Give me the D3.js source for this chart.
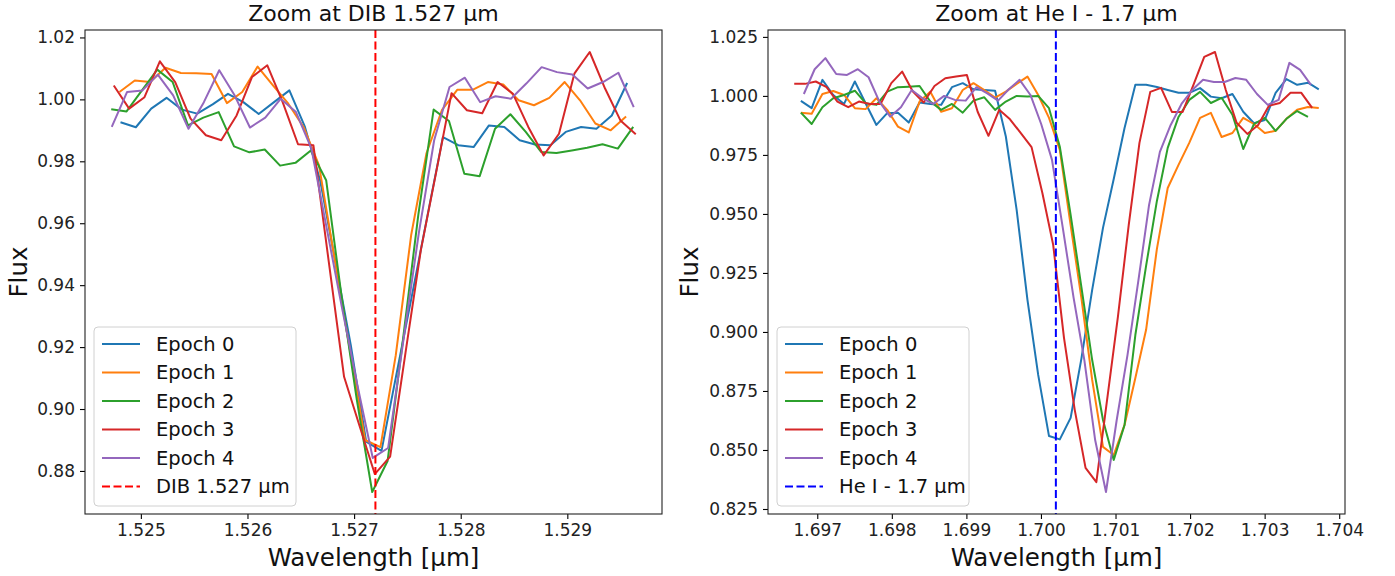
<!DOCTYPE html>
<html>
<head>
<meta charset="utf-8">
<script src="https://cdn.jsdelivr.net/npm/d3@7"></script>
<style>
	body{margin:0;background:#fff;}
	svg{display:block;font-family:"DejaVu Sans",sans-serif;}
	.axis line{stroke:#000;stroke-width:1.1;}
	.axis path{display:none;}
	.axis text{font-size:17px;fill:#222;font-family:"DejaVu Sans",sans-serif;}
	.frame{fill:none;stroke:#222;stroke-width:1.1;}
	.spec{fill:none;stroke-width:2;stroke-linejoin:round;}
	.ttl{font-size:22px;fill:#111;}
	.lbl{font-size:24.5px;fill:#111;}
	.leg-box{fill:#fff;fill-opacity:0.8;stroke:#d0d0d0;stroke-width:1;}
	.leg-text{font-size:19.5px;fill:#111;}
</style>
</head>
<body>
<svg id="chart" width="1395" height="576"></svg>
<script>
var epochNames = ['Epoch 0', 'Epoch 1', 'Epoch 2', 'Epoch 3', 'Epoch 4'];
var epochColors = ['#1f77b4', '#ff7f0e', '#2ca02c', '#d62728', '#9467bd'];

// DIB 1.527 panel
var dibWave0 = [1.524809,1.524953,1.525097,1.525241,1.525385,1.525529,1.525673,1.525817,1.525961,1.526105,1.526249,1.526393,1.526537,1.526681,1.526825,1.526969,1.527113,1.527257,1.527401,1.527545,1.527689,1.527833,1.527977,1.528121,1.528265,1.528409,1.528553,1.528697,1.528841,1.528985,1.529129,1.529273,1.529417,1.529561];
var dibFlux0 = [0.9926,0.9910,0.9970,1.0005,0.9967,0.9954,0.9984,1.0018,0.9991,0.9953,0.9991,1.0029,0.9913,0.9739,0.9474,0.9206,0.8895,0.8865,0.9119,0.9371,0.9626,0.9878,0.9852,0.9846,0.9916,0.9911,0.9868,0.9854,0.9852,0.9895,0.9911,0.9905,0.9948,1.0053];
var dibWave1 = [1.524799,1.524943,1.525087,1.525231,1.525375,1.525519,1.525663,1.525807,1.525951,1.526095,1.526239,1.526383,1.526527,1.526671,1.526815,1.526959,1.527103,1.527247,1.527391,1.527535,1.527679,1.527823,1.527967,1.528111,1.528255,1.528399,1.528543,1.528687,1.528831,1.528975,1.529119,1.529263,1.529407,1.529551];
var dibFlux1 = [1.0024,1.0061,1.0056,1.0102,1.0085,1.0084,1.0082,0.9988,1.0024,1.0106,1.0045,0.9986,0.9910,0.9787,0.9490,0.9194,0.8900,0.8877,0.9174,0.9561,0.9826,0.9965,1.0031,1.0031,1.0056,1.0048,0.9997,0.9981,1.0005,1.0056,0.9997,0.9922,0.9900,0.9945];
var dibWave2 = [1.524722,1.524866,1.525010,1.525154,1.525298,1.525442,1.525586,1.525730,1.525874,1.526018,1.526162,1.526306,1.526450,1.526594,1.526738,1.526882,1.527026,1.527170,1.527314,1.527458,1.527602,1.527746,1.527890,1.528034,1.528178,1.528322,1.528466,1.528610,1.528754,1.528898,1.529042,1.529186,1.529330,1.529474,1.529618];
var dibFlux2 = [0.9968,0.9961,1.0029,1.0096,1.0056,0.9916,0.9941,0.9959,0.9848,0.9829,0.9838,0.9786,0.9795,0.9835,0.9739,0.9365,0.9029,0.8732,0.8832,0.9223,0.9626,0.9967,0.9930,0.9760,0.9752,0.9905,0.9952,0.9895,0.9830,0.9827,0.9835,0.9844,0.9855,0.9841,0.9911];
var dibWave3 = [1.524746,1.524890,1.525034,1.525178,1.525322,1.525466,1.525610,1.525754,1.525898,1.526042,1.526186,1.526330,1.526474,1.526618,1.526762,1.526906,1.527050,1.527194,1.527338,1.527482,1.527626,1.527770,1.527914,1.528058,1.528202,1.528346,1.528490,1.528634,1.528778,1.528922,1.529066,1.529210,1.529354,1.529498,1.529642];
var dibFlux3 = [1.0045,0.9970,1.0007,1.0123,1.0056,0.9938,0.9884,0.9868,0.9948,1.0072,1.0110,0.9991,0.9855,0.9852,0.9477,0.9104,0.8947,0.8790,0.8846,0.9181,0.9513,0.9765,1.0020,0.9965,0.9955,1.0056,1.0018,0.9911,0.9819,0.9889,1.0083,1.0153,1.0035,0.9932,0.9887];
var dibWave4 = [1.524727,1.524871,1.525015,1.525159,1.525303,1.525447,1.525591,1.525735,1.525879,1.526023,1.526167,1.526311,1.526455,1.526599,1.526743,1.526887,1.527031,1.527175,1.527319,1.527463,1.527607,1.527751,1.527895,1.528039,1.528183,1.528327,1.528471,1.528615,1.528759,1.528903,1.529047,1.529191,1.529335,1.529479,1.529623];
var dibFlux4 = [0.9911,1.0024,1.0029,1.0080,1.0013,0.9905,0.9991,1.0094,1.0013,0.9909,0.9941,1.0002,0.9959,0.9842,0.9584,0.9326,0.9077,0.8842,0.8874,0.9223,0.9568,0.9868,1.0040,1.0070,0.9991,1.0010,1.0002,1.0051,1.0104,1.0088,1.0080,1.0035,1.0056,1.0086,0.9975];
var dibCenter = 1.5272;
var dibXTicks = [1.525, 1.526, 1.527, 1.528, 1.529];
var dibYTicks = [0.88, 0.90, 0.92, 0.94, 0.96, 0.98, 1.00, 1.02];

// He I 1.7 panel (epochs 0-2 share one grid)
var heWave0 = [1.696780,1.696925,1.697069,1.697214,1.697359,1.697504,1.697648,1.697793,1.697938,1.698082,1.698227,1.698372,1.698516,1.698661,1.698806,1.698951,1.699095,1.699240,1.699385,1.699529,1.699674,1.699819,1.699963,1.700108,1.700253,1.700398,1.700542,1.700687,1.700832,1.700976,1.701121,1.701266,1.701410,1.701555,1.701700,1.701845,1.701989,1.702134,1.702279,1.702423,1.702568,1.702713,1.702857,1.703002,1.703147,1.703292,1.703436,1.703581,1.703726];
var heFlux0 = [0.9979,0.9948,1.0068,1.0004,0.9966,1.0061,0.9969,0.9877,0.9927,0.9929,0.9887,0.9972,0.9966,0.9962,1.0037,1.0054,1.0028,1.0025,1.0022,0.9828,0.9517,0.9136,0.8818,0.8559,0.8545,0.8636,0.8886,0.9178,0.9441,0.9648,0.9864,1.0047,1.0047,1.0038,1.0025,1.0013,1.0013,1.0033,0.9997,0.9990,1.0008,0.9933,0.9884,0.9898,1.0013,1.0071,1.0047,1.0056,1.0028];
var heFlux1 = [0.9929,0.9924,1.0008,1.0021,1.0004,0.9948,0.9944,0.9990,0.9941,0.9870,0.9845,0.9976,1.0018,0.9933,0.9948,1.0025,1.0054,1.0025,0.9993,1.0018,1.0051,1.0082,1.0004,0.9907,0.9771,0.9453,0.9144,0.8797,0.8513,0.8479,0.8606,0.8805,0.9009,0.9352,0.9610,0.9708,0.9801,0.9907,0.9928,0.9826,0.9843,0.9907,0.9881,0.9843,0.9852,0.9903,0.9941,0.9953,0.9949];
var heFlux2 = [0.9929,0.9881,0.9952,0.9990,1.0004,1.0022,0.9969,0.9962,1.0018,1.0037,1.0039,1.0042,0.9976,0.9941,0.9966,0.9929,0.9980,0.9994,0.9941,0.9976,1.0000,0.9997,1.0000,0.9948,0.9785,0.9496,0.9191,0.8881,0.8627,0.8458,0.8606,0.8987,0.9280,0.9555,0.9780,0.9911,0.9983,1.0017,0.9970,0.9992,0.9920,0.9775,0.9881,0.9907,0.9852,0.9903,0.9936,0.9911];
var heWave3 = [1.696691,1.696836,1.696980,1.697125,1.697270,1.697415,1.697559,1.697704,1.697849,1.697993,1.698138,1.698283,1.698427,1.698572,1.698717,1.698862,1.699006,1.699151,1.699296,1.699440,1.699585,1.699730,1.699874,1.700019,1.700164,1.700309,1.700453,1.700598,1.700743,1.700887,1.701032,1.701177,1.701321,1.701466,1.701611,1.701756,1.701900,1.702045,1.702190,1.702334,1.702479,1.702624,1.702768,1.702913,1.703058,1.703203,1.703347,1.703492,1.703637];
var heFlux3 = [1.0051,1.0051,1.0061,1.0037,0.9976,0.9952,0.9976,0.9966,0.9966,1.0054,1.0103,1.0018,0.9972,1.0042,1.0075,1.0082,1.0089,0.9933,0.9831,0.9941,0.9901,0.9842,0.9783,0.9589,0.9369,0.8975,0.8670,0.8424,0.8364,0.8712,0.9064,0.9453,0.9801,1.0017,1.0034,0.9932,0.9932,1.0047,1.0165,1.0186,1.0025,0.9886,0.9839,0.9877,0.9958,0.9970,1.0013,1.0013,0.9949];
var heWave4 = [1.696820,1.696965,1.697109,1.697254,1.697399,1.697544,1.697688,1.697833,1.697978,1.698122,1.698267,1.698412,1.698556,1.698701,1.698846,1.698991,1.699135,1.699280,1.699425,1.699569,1.699714,1.699859,1.700003,1.700148,1.700293,1.700438,1.700582,1.700727,1.700872,1.701016,1.701161,1.701306,1.701450,1.701595,1.701740,1.701885,1.702029,1.702174,1.702319,1.702463,1.702608,1.702753,1.702897,1.703042,1.703187,1.703332,1.703476,1.703621];
var heFlux4 = [1.0008,1.0113,1.0160,1.0093,1.0089,1.0113,1.0079,0.9976,0.9912,0.9952,1.0025,0.9990,0.9966,1.0000,0.9983,0.9980,1.0037,1.0011,0.9980,1.0028,1.0068,1.0004,0.9881,0.9729,0.9441,0.9144,0.8881,0.8542,0.8322,0.8627,0.8903,0.9216,0.9538,0.9763,0.9877,0.9966,1.0025,1.0068,1.0059,1.0059,1.0076,1.0068,1.0008,0.9962,0.9983,1.0140,1.0110,1.0047];
var heCenter = 1.7002;
var heXTicks = [1.697, 1.698, 1.699, 1.700, 1.701, 1.702, 1.703, 1.704];
var heYTicks = [0.825, 0.850, 0.875, 0.900, 0.925, 0.950, 0.975, 1.000, 1.025];

var svg = d3.select('#chart');

function drawPanel(p){
	var w = p.width, h = p.height;
	var g = svg.append('g').attr('transform', 'translate(' + p.left + ',' + p.top + ')');

	var allW = [], allF = [];
	p.series.forEach(function(s){
		allW = allW.concat(s.wave.slice(0, s.flux.length));
		allF = allF.concat(s.flux);
	});
	// 5% margins, like the original plot
	var xe = d3.extent(allW), ye = d3.extent(allF);
	var xm = (xe[1] - xe[0]) * 0.05, ym = (ye[1] - ye[0]) * 0.05;
	var x = d3.scaleLinear().domain([xe[0] - xm, xe[1] + xm]).range([0, w]);
	var y = d3.scaleLinear().domain([ye[0] - ym, ye[1] + ym]).range([h, 0]);

	g.append('g').attr('class', 'axis')
	 .attr('transform', 'translate(0,' + h + ')')
	 .call(d3.axisBottom(x).tickValues(p.xTicks).tickFormat(d3.format('.3f')).tickSize(5).tickPadding(5));
	g.append('g').attr('class', 'axis')
	 .call(d3.axisLeft(y).tickValues(p.yTicks).tickFormat(d3.format(p.yFormat)).tickSize(5).tickPadding(5));

	var line = d3.line()
		.x(function(d){ return x(d[0]); })
		.y(function(d){ return y(d[1]); });

	p.series.forEach(function(s, i){
		g.append('path')
		 .attr('class', 'spec')
		 .attr('stroke', epochColors[i])
		 .attr('d', line(d3.zip(s.wave, s.flux)));
	});

	g.append('line')
	 .attr('x1', x(p.center)).attr('x2', x(p.center))
	 .attr('y1', 0).attr('y2', h)
	 .attr('stroke', p.centerColor)
	 .attr('stroke-width', 2)
	 .attr('stroke-dasharray', '8,3.5');

	g.append('rect').attr('class', 'frame').attr('width', w).attr('height', h);

	g.append('text').attr('class', 'ttl')
	 .attr('x', w / 2).attr('y', -9)
	 .attr('text-anchor', 'middle')
	 .text(p.title);
	g.append('text').attr('class', 'lbl')
	 .attr('x', w / 2).attr('y', h + 52)
	 .attr('text-anchor', 'middle')
	 .text('Wavelength [\u00b5m]');
	g.append('text').attr('class', 'lbl')
	 .attr('transform', 'translate(' + p.ylabelX + ',' + (h / 2) + ') rotate(-90)')
	 .attr('text-anchor', 'middle')
	 .text('Flux');

	// legend, lower left
	var items = epochNames.map(function(n, i){ return {name: n, color: epochColors[i], dash: null}; });
	items.push({name: p.centerLabel, color: p.centerColor, dash: '8,3.5'});
	var lg = g.append('g').attr('transform', 'translate(9,' + (h - 8 - p.legendH) + ')');
	lg.append('rect').attr('class', 'leg-box')
	 .attr('width', p.legendW).attr('height', p.legendH)
	 .attr('rx', 4).attr('ry', 4);
	items.forEach(function(it, i){
		var yy = 17 + i * 28.5;
		lg.append('line')
		 .attr('x1', 8).attr('x2', 46)
		 .attr('y1', yy).attr('y2', yy)
		 .attr('stroke', it.color)
		 .attr('stroke-width', 2)
		 .attr('stroke-dasharray', it.dash);
		lg.append('text').attr('class', 'leg-text')
		 .attr('x', 62).attr('y', yy).attr('dy', '0.35em')
		 .text(it.name);
	});
}

drawPanel({
	left: 85, top: 30, width: 577, height: 484,
	series: [
		{wave: dibWave0, flux: dibFlux0},
		{wave: dibWave1, flux: dibFlux1},
		{wave: dibWave2, flux: dibFlux2},
		{wave: dibWave3, flux: dibFlux3},
		{wave: dibWave4, flux: dibFlux4}
	],
	xTicks: dibXTicks, yTicks: dibYTicks, yFormat: '.2f',
	center: dibCenter, centerColor: '#ff0000', centerLabel: 'DIB 1.527 \u00b5m',
	title: 'Zoom at DIB 1.527 \u00b5m',
	ylabelX: -58, legendW: 202, legendH: 179
});

drawPanel({
	left: 768, top: 30, width: 577, height: 484,
	series: [
		{wave: heWave0, flux: heFlux0},
		{wave: heWave0, flux: heFlux1},
		{wave: heWave0, flux: heFlux2},
		{wave: heWave3, flux: heFlux3},
		{wave: heWave4, flux: heFlux4}
	],
	xTicks: heXTicks, yTicks: heYTicks, yFormat: '.3f',
	center: heCenter, centerColor: '#0000ff', centerLabel: 'He I - 1.7 \u00b5m',
	title: 'Zoom at He I - 1.7 \u00b5m',
	ylabelX: -70, legendW: 192, legendH: 179
});
</script>
</body>
</html>
